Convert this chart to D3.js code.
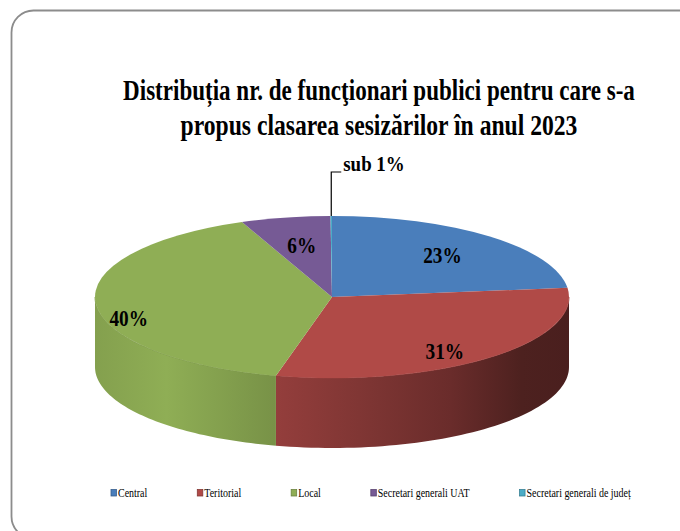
<!DOCTYPE html>
<html>
<head>
<meta charset="utf-8">
<script src="https://cdn.jsdelivr.net/npm/d3@7"></script>
<style>
  html, body { margin: 0; padding: 0; background: #fff; }
  svg { display: block; }
  text { font-family: "Liberation Serif", "Times New Roman", serif; }
</style>
</head>
<body>
<svg id="chart" width="680" height="531"></svg>
<script>
// chart data
const titleLines = [
    "Distribuția nr. de funcţionari publici pentru care s-a",
    "propus clasarea sesizărilor în anul 2023"
];
const categories = ["Central", "Teritorial", "Local", "Secretari generali UAT", "Secretari generali de județ"];
const shares = [23.2, 30.6, 40.0, 6.1, 0.1];
const pctLabels = ["23%", "31%", "40%", "6%", "sub 1%"];
const colors = ["#4A7EBB", "#B04A47", "#8FAE55", "#765A95", "#4BACC6"];

var svg = d3.select("#chart");
var serif = "Liberation Serif";

// frame
svg.append("rect")
    .attr("x", 11.5).attr("y", 10.5)
    .attr("width", 690).attr("height", 528)
    .attr("rx", 22).attr("ry", 22)
    .attr("fill", "#fff")
    .attr("stroke", "#8c8c8c")
    .attr("stroke-width", 1.8);

// title, squeezed horizontally like the original
var titleWidths = [512, 397];
titleLines.forEach(function (t, i) {
    var txt = svg.append("text")
        .attr("text-anchor", "middle")
        .attr("font-family", serif)
        .attr("font-weight", "bold")
        .attr("font-size", 30)
        .attr("fill", "#000")
        .text(t);
    var k = titleWidths[i] / txt.node().getComputedTextLength();
    txt.attr("transform", "translate(379," + (100 + i * 35) + ") scale(" + k + ",1)");
});

// 3d pie geometry
var cx = 332, cy = 297, rx = 237, ry = 81, depth = 70;

var pie = d3.pie().sort(null).value(d => d.value);
var arcs = pie(categories.map((c, i) => ({ key: c, value: shares[i], color: colors[i], label: pctLabels[i] })));

var ex = a => cx + rx * Math.sin(a),
    ey = a => cy - ry * Math.cos(a);

var defs = svg.append("defs");

// shading along the side wall (multipliers of the base colour)
var shade = [[0, 0.92], [0.15, 1.0], [0.38, 0.84], [0.6, 0.7], [0.75, 0.6], [0.9, 0.44], [1, 0.42]];
arcs.forEach(function (d, i) {
    var g = defs.append("linearGradient")
        .attr("id", "side" + i)
        .attr("gradientUnits", "userSpaceOnUse")
        .attr("x1", cx - rx).attr("x2", cx + rx)
        .attr("y1", 0).attr("y2", 0);
    var base = d3.rgb(d.data.color);
    shade.forEach(function (s) {
        g.append("stop")
            .attr("offset", s[0])
            .attr("stop-color", d3.rgb(base.r * s[1], base.g * s[1], base.b * s[1]).formatHex());
    });
});

var line = d3.line();
var sides = svg.append("g").attr("class", "sides");
arcs.forEach(function (d, i) {
    var s = Math.max(d.startAngle, Math.PI / 2),
        e = Math.min(d.endAngle, 3 * Math.PI / 2);
    if (s >= e) return;
    var steps = d3.range(0, 61).map(k => s + (e - s) * k / 60);
    var pts = steps.map(a => [ex(a), ey(a)])
        .concat(steps.slice().reverse().map(a => [ex(a), ey(a) + depth]));
    sides.append("path")
        .attr("d", line(pts) + "Z")
        .attr("fill", "url(#side" + i + ")");
    // rim line between wall and top
    sides.append("path")
        .attr("d", line(steps.map(a => [ex(a), ey(a)])))
        .attr("fill", "none")
        .attr("stroke", d3.rgb(d.data.color).darker(0.4))
        .attr("stroke-width", 0.8);
});

// top face: d3.arc squashed into an ellipse
var arc = d3.arc().innerRadius(0).outerRadius(rx);
svg.append("g")
    .attr("transform", "translate(" + cx + "," + cy + ") scale(1," + (ry / rx) + ")")
    .selectAll("path")
    .data(arcs).enter()
    .append("path")
    .attr("d", arc)
    .attr("fill", d => d.data.color);

// data labels
var labelK = [0.7, 0.72, 0.86, 0.65],
    labelDy = [0, 10, 16, 0];
arcs.slice(0, 4).forEach(function (d, i) {
    var mid = (d.startAngle + d.endAngle) / 2;
    var x = cx + rx * labelK[i] * Math.sin(mid),
        y = cy - ry * labelK[i] * Math.cos(mid) + labelDy[i];
    svg.append("text")
        .attr("transform", "translate(" + x + "," + y + ") scale(0.84,1)")
        .attr("text-anchor", "middle")
        .attr("dy", "0.35em")
        .attr("font-family", serif)
        .attr("font-weight", "bold")
        .attr("font-size", 23)
        .attr("fill", "#000")
        .text(d.data.label);
});

// leader for the tiny slice
var tiny = arcs[4], tmid = (tiny.startAngle + tiny.endAngle) / 2;
var leadX = ex(tmid), leadY = ey(tmid), leadTop = 172;
svg.append("path")
    .attr("d", line([[leadX, leadY], [leadX, leadTop], [leadX + 10, leadTop]]))
    .attr("fill", "none")
    .attr("stroke", "#000")
    .attr("stroke-width", 1.2);
svg.append("text")
    .attr("transform", "translate(" + (leadX + 12) + "," + (leadTop - 1) + ") scale(0.86,1)")
    .attr("font-family", serif)
    .attr("font-weight", "bold")
    .attr("font-size", 22)
    .attr("fill", "#000")
    .text(tiny.data.label);

// legend
var legend = svg.append("g").attr("class", "legend");
var lgX = 111, lgY = 493, lgGap = 50, lgScale = 0.83;
arcs.forEach(function (d) {
    var item = legend.append("g");
    item.append("rect")
        .attr("x", lgX).attr("y", lgY - 3.5)
        .attr("width", 5.5).attr("height", 6.5)
        .attr("fill", d.data.color)
        .attr("stroke", d3.rgb(d.data.color).darker(0.8))
        .attr("stroke-width", 0.8);
    var t = item.append("text")
        .attr("transform", "translate(" + (lgX + 7) + "," + (lgY + 4) + ") scale(" + lgScale + ",1)")
        .attr("font-family", serif)
        .attr("font-size", 12)
        .attr("fill", "#000")
        .text(d.data.key);
    lgX += 7 + t.node().getComputedTextLength() * lgScale + lgGap;
});
</script>
</body>
</html>
